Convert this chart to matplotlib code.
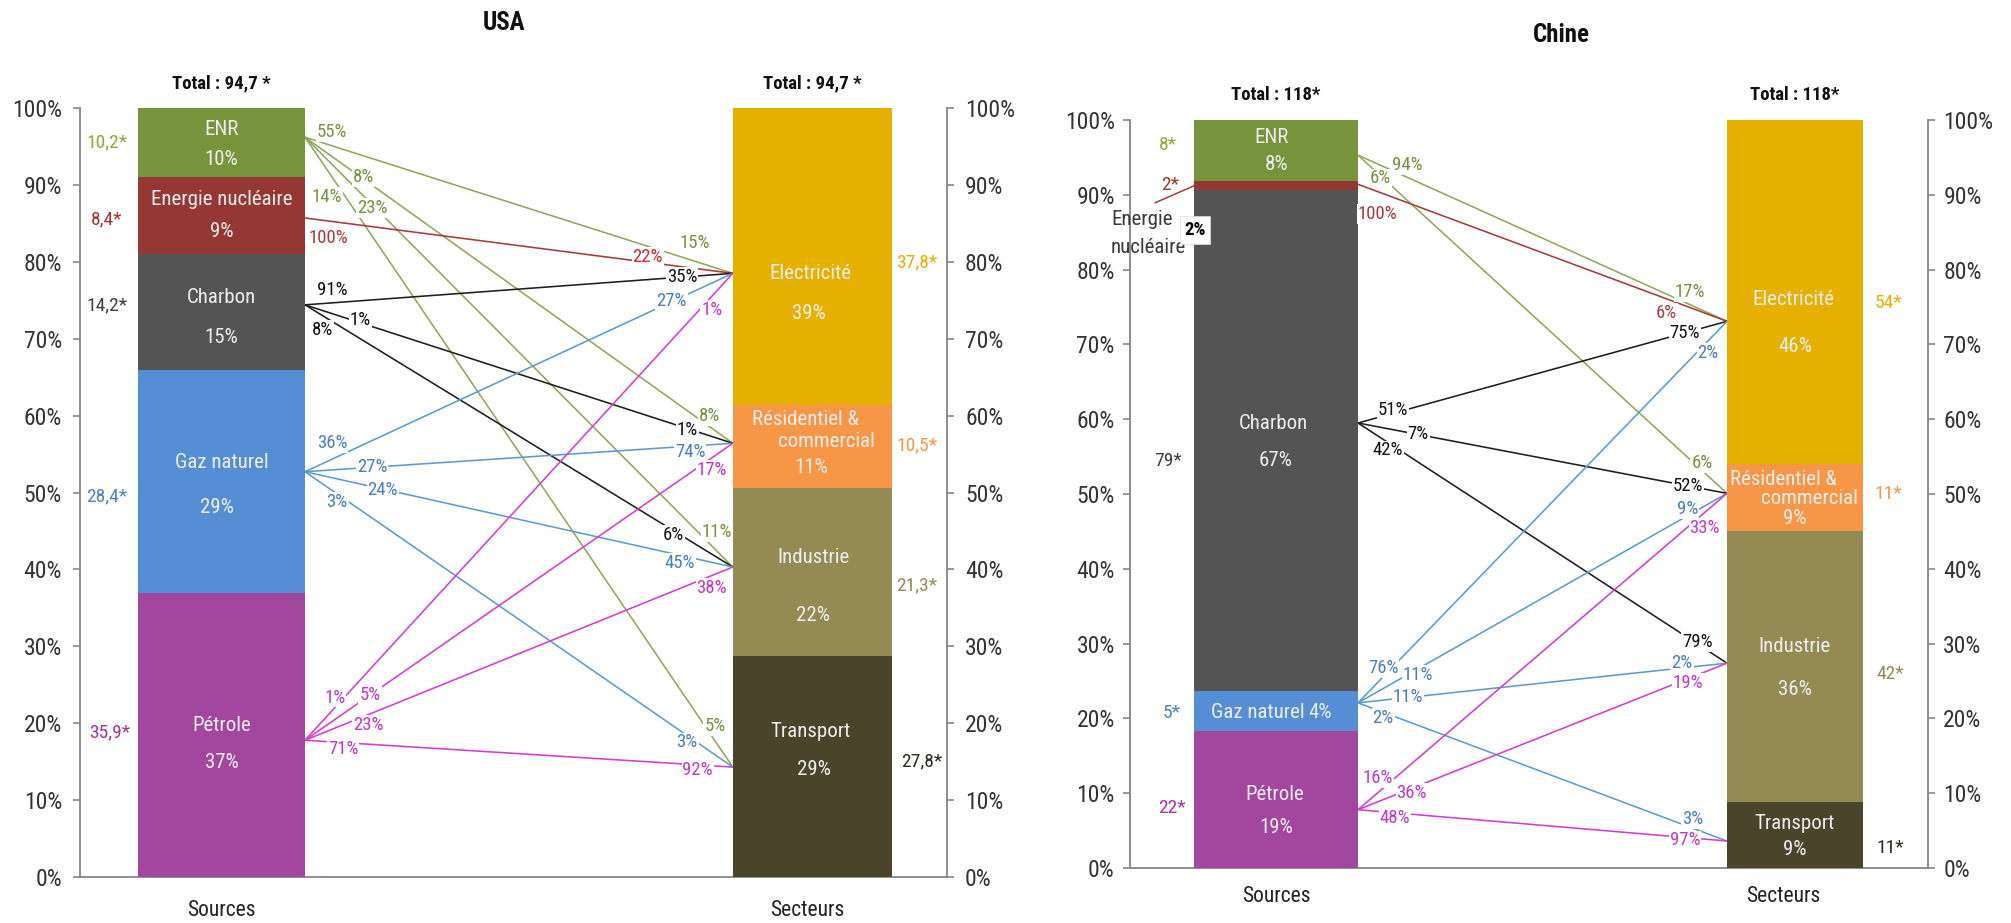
import os
import matplotlib
matplotlib.use('Agg')
import matplotlib.pyplot as plt
from matplotlib import font_manager as fm
from matplotlib.font_manager import FontProperties
from matplotlib.textpath import TextPath

# ======================= DATA =======================
# --- USA ---
usa_sources = ['Pétrole', 'Gaz naturel', 'Charbon', 'Energie nucléaire', 'ENR']
usa_source_share = [36.9, 29.0, 15.1, 10.0, 9.0]
usa_source_pct = [37, 29, 15, 9, 10]
usa_source_abs = ['35,9*', '28,4*', '14,2*', '8,4*', '10,2*']
usa_sectors = ['Transport', 'Industrie', 'Résidentiel &\ncommercial', 'Electricité']
usa_sector_share = [28.7, 21.9, 10.8, 38.6]
usa_sector_pct = [29, 22, 11, 39]
usa_sector_abs = ['27,8*', '21,3*', '10,5*', '37,8*']
usa_total = 'Total : 94,7 *'
# links: source index (0 Pétrole .. 4 ENR) -> sector index (0 Transport .. 3 Electricité)
usa_link_src = [4, 4, 4, 4, 3, 2, 2, 2, 1, 1, 1, 1, 0, 0, 0, 0]
usa_link_dst = [3, 2, 1, 0, 3, 3, 2, 1, 3, 2, 1, 0, 3, 2, 1, 0]
usa_link_src_pct = [55, 8, 23, 14, 100, 91, 1, 8, 36, 27, 24, 3, 1, 5, 23, 71]
usa_link_dst_pct = [15, 8, 11, 5, 22, 35, 1, 6, 27, 74, 45, 3, 1, 17, 38, 92]

# --- Chine ---
chn_sources = ['Pétrole', 'Gaz naturel', 'Charbon', 'Energie nucléaire', 'ENR']
chn_source_share = [18.3, 5.4, 66.9, 1.2, 8.2]
chn_source_pct = [19, 4, 67, 2, 8]
chn_source_abs = ['22*', '5*', '79*', '2*', '8*']
chn_sectors = ['Transport', 'Industrie', 'Résidentiel &\ncommercial', 'Electricité']
chn_sector_share = [8.8, 36.3, 8.9, 46.0]
chn_sector_pct = [9, 36, 9, 46]
chn_sector_abs = ['11*', '42*', '11*', '54*']
chn_total = 'Total : 118*'
chn_link_src = [4, 4, 3, 2, 2, 2, 1, 1, 1, 1, 0, 0, 0]
chn_link_dst = [3, 2, 3, 3, 2, 1, 3, 2, 1, 0, 2, 1, 0]
chn_link_src_pct = [94, 6, 100, 51, 7, 42, 76, 11, 11, 2, 16, 36, 48]
chn_link_dst_pct = [17, 6, 6, 75, 52, 79, 2, 9, 2, 3, 33, 19, 97]


# ======================= FONTS =======================
def find_narrow(bold):
    bad_reg = ['bold', 'italic', 'oblique', 'light', 'thin', 'medium', 'black', 'semi', 'extra', 'heavy']
    bad_bold = ['italic', 'oblique', 'semi', 'extra', 'light', 'black']
    prefs = ['liberationsansnarrow', 'arialn', 'notosans', 'opensans', 'roboto', 'dejavusans', 'lato', 'inter']
    cands = []
    for f in fm.fontManager.ttflist:
        base = os.path.basename(f.fname).lower().replace('-', '').replace('_', '')
        if not ('narrow' in base or 'condensed' in base):
            continue
        if 'mono' in base or 'serif' in base or 'semicondensed' in base or 'extracondensed' in base:
            continue
        if bold:
            if 'bold' not in base or any(w in base for w in bad_bold):
                continue
        else:
            if any(w in base for w in bad_reg):
                continue
        rank = next((i for i, p in enumerate(prefs) if base.startswith(p)), 99)
        cands.append((rank, f.fname))
    cands.sort()
    return cands[0][1] if cands else None


reg_path = find_narrow(False)
bold_path = find_narrow(True)
FP = FontProperties(fname=reg_path) if reg_path else FontProperties(family=['Lato', 'DejaVu Sans'])
FPB = FontProperties(fname=bold_path) if bold_path else FontProperties(family=['Lato', 'DejaVu Sans'], weight='bold')


def fp(size, bold=False):
    p = (FPB if bold else FP).copy()
    p.set_size(size)
    return p


# scale so that "Energie nucléaire" at 15 pt is about 148 px wide
_w = TextPath((0, 0), 'Energie nucléaire', size=15 * 100 / 72, prop=FP).get_extents().width
S = min(1.0, 148.0 / _w)

# ======================= STYLE / LAYOUT =======================
src_colors = ['#A2469E', '#558ED5', '#545454', '#953735', '#77933C']
sec_colors = ['#4A442A', '#948A54', '#F79646', '#E6B000']
line_colors = ['#D43CD4', '#5B9BD5', '#1E1E1E', '#A83A3A', '#8FA85A']
lbl_colors = ['#C636C6', '#4A7EC0', '#111111', '#A83A3A', '#76923C']
src_abs_colors = ['#A0359E', '#4F81BD', '#3F3F3F', '#A83232', '#9AA33A']
sec_abs_colors = ['#2F2B1A', '#948A54', '#F79646', '#E6AF00']
INNER = '#EEEEEE'
AXC = '#868686'
TICKC = '#333333'

W, H = 2011, 923

panels = [
    dict(
        rect=[80, 108, 947, 877],
        lbar=(0.0669, 0.2595), rbar=(0.7530, 0.9366),
        title='USA', title_xy=(504, 23),
        sources=usa_sources, sshare=usa_source_share, spct=usa_source_pct, sabs=usa_source_abs,
        sectors=usa_sectors, dshare=usa_sector_share, dpct=usa_sector_pct, dabs=usa_sector_abs,
        total=usa_total,
        lsrc=usa_link_src, ldst=usa_link_dst, lsp=usa_link_src_pct, ldp=usa_link_dst_pct,
        s_anchor=[0.482, 0.545, 0.563, 0.47, 0.578],
        d_anchor=[0.498, 0.53, 0.537, 0.443],
        lab_pos=[(.063, -14, .911, -18), (.136, -2, .946, -11), (.157, 3, .963, -19),
                 (.05, 28, .958, -15), (.054, 17, .801, -5), (.065, -13, .881, 0),
                 (.129, -3, .893, 2), (.04, 15, .86, 5), (.063, -16, .857, -1),
                 (.157, 0, .9, 6), (.182, 1, .876, 8), (.075, 8, .893, 7),
                 (.07, -10, .951, 14), (.152, 0, .951, 12), (.147, 10, .951, 12),
                 (.089, 6, .918, 5)],
        s_inner=[[(0, -10), (0, 27)], [(0, -19), (-5, 26)], [(0, -15), (0, 25)],
                 [(0, -16), (0, 16)], [(0, -13), (0, 17)]],
        d_inner=[[(-2, -35), (1, 3)], [(1, -15), (1, 43)],
                 [(-7, -27), (14, -5), (-1, 21)], [(-2, 17), (-4, 57)]],
        s_abs_off=[(-28, -3), (-31, 15), (-31, -7), (-31, 4), (-31, 0)],
        d_abs_off=[(30, -5), (25, 13), (25, -1), (25, 6)],
        total_dy=25, axis_lbl_dy=33, sect_lbl_dx=-5,
        nuc_right_color='#D42A2A', pad=8,
    ),
    dict(
        rect=[1130, 120, 1928, 868],
        lbar=(0.0802, 0.2857), rbar=(0.7481, 0.9185),
        title='Chine', title_xy=(1561, 35),
        sources=chn_sources, sshare=chn_source_share, spct=chn_source_pct, sabs=chn_source_abs,
        sectors=chn_sectors, dshare=chn_sector_share, dpct=chn_sector_pct, dabs=chn_sector_abs,
        total=chn_total,
        lsrc=chn_link_src, ldst=chn_link_dst, lsp=chn_link_src_pct, ldp=chn_link_dst_pct,
        s_anchor=[0.426, 0.70, 0.535, 0.67, 0.427],
        d_anchor=[0.41, 0.512, 0.56, 0.415],
        lab_pos=[(.133, -12, .9, -13), (.06, 3, .932, -7), (.054, 22, .837, 14),
                 (.095, -3, .886, 0), (.163, 0, .894, 0), (.081, 8, .919, -2),
                 (.068, -9, .949, 12), (.163, 6, .894, -7), (.136, 0, .878, -5),
                 (.068, 6, .908, -9), (.054, -15, .94, 16), (.146, 5, .894, 4),
                 (.1, 5, .886, 3)],
        s_inner=[[(-1, -5), (0, 28)], [(-18, 2), (44, 2)], [(-3, -17), (0, 20)],
                 None, [(-4, -13), (1, 14)]],
        d_inner=[[(0, -12), (0, 14)], [(0, -20), (0, 23)],
                 [(-12, -18), (14, 1), (0, 21)], [(-2, 7), (0, 54)]],
        s_abs_off=[(-22, 8), (-22, 2), (-26, 20), (-24, -1), (-26, -6)],
        d_abs_off=[(27, 13), (27, 8), (25, -3), (25, 11)],
        total_dy=25, axis_lbl_dy=29, sect_lbl_dx=-12,
        nuc_right_color='#A84040', pad=6,
    ),
]

SZ_INNER = 15 * S
SZ_LINK = 13.5 * S
SZ_ABS = 14 * S
SZ_TICK = 17 * S
SZ_TOTAL = 13.5 * S
SZ_AXL = 15.5 * S

fig = plt.figure(figsize=(W / 100, H / 100), dpi=100)


def seg_bounds(shares):
    out, b = [], 0.0
    for s in shares:
        out.append((b, b + s))
        b += s
    return out


for P in panels:
    x0p, ytop, x1p, ybot = P['rect']
    ax = fig.add_axes([x0p / W, (H - ybot) / H, (x1p - x0p) / W, (ybot - ytop) / H])
    ax.set_xlim(0, 1)
    ax.set_ylim(0, 100)
    ax.spines['top'].set_visible(False)
    for sp in ['left', 'right', 'bottom']:
        ax.spines[sp].set_color(AXC)
        ax.spines[sp].set_linewidth(1.3)
    ax.set_xticks([])
    ax.set_yticks(range(0, 101, 10))
    ax.set_yticklabels([f'{v}%' for v in range(0, 101, 10)])
    ax.tick_params(axis='y', left=True, right=True, labelleft=True, labelright=True,
                   direction='out', length=5, width=1.2, color=AXC, labelcolor=TICKC,
                   pad=P['pad'])
    for t in ax.yaxis.get_major_ticks():
        t.label1.set_fontproperties(fp(SZ_TICK))
        t.label2.set_fontproperties(fp(SZ_TICK))

    lx0, lx1 = P['lbar']
    rx0, rx1 = P['rbar']
    lc, rc = (lx0 + lx1) / 2, (rx0 + rx1) / 2
    sb = seg_bounds(P['sshare'])
    db = seg_bounds(P['dshare'])

    # bars
    for i, (b0, b1) in enumerate(sb):
        ax.bar(lc, b1 - b0, bottom=b0, width=lx1 - lx0, color=src_colors[i], zorder=3, linewidth=0)
    for i, (b0, b1) in enumerate(db):
        ax.bar(rc, b1 - b0, bottom=b0, width=rx1 - rx0, color=sec_colors[i], zorder=3, linewidth=0)

    s_anchor = [b0 + f * (b1 - b0) for (b0, b1), f in zip(sb, P['s_anchor'])]
    d_anchor = [b0 + f * (b1 - b0) for (b0, b1), f in zip(db, P['d_anchor'])]

    # links
    for k in range(len(P['lsrc'])):
        s, d = P['lsrc'][k], P['ldst'][k]
        ys, yd = s_anchor[s], d_anchor[d]
        ax.plot([lx1, rx0], [ys, yd], color=line_colors[s], lw=1.15, zorder=2,
                solid_capstyle='butt')
        tL, dyL, tR, dyR = P['lab_pos'][k]
        rcol = lbl_colors[s] if s != 3 else P['nuc_right_color']
        for t, dy, txt, col in [(tL, dyL, f"{P['lsp'][k]}%", lbl_colors[s]),
                                (tR, dyR, f"{P['ldp'][k]}%", rcol)]:
            x = lx1 + t * (rx0 - lx1)
            y = ys + t * (yd - ys)
            ax.annotate(txt, xy=(x, y), xytext=(0, -dy), textcoords='offset pixels',
                        ha='center', va='center', fontproperties=fp(SZ_LINK), color=col, zorder=4,
                        bbox=dict(boxstyle='square,pad=0.05', fc='white', ec='none'))

    # inner labels
    for i, (b0, b1) in enumerate(sb):
        offs = P['s_inner'][i]
        if offs is None:
            continue
        texts = P['sources'][i].split('\n') + [f"{P['spct'][i]}%"]
        for txt, (dx, dy) in zip(texts, offs):
            ax.annotate(txt, xy=(lc, (b0 + b1) / 2), xytext=(dx, -dy), textcoords='offset pixels',
                        ha='center', va='center', fontproperties=fp(SZ_INNER), color=INNER, zorder=5)
    for i, (b0, b1) in enumerate(db):
        offs = P['d_inner'][i]
        texts = P['sectors'][i].split('\n') + [f"{P['dpct'][i]}%"]
        for txt, (dx, dy) in zip(texts, offs):
            ax.annotate(txt, xy=(rc, (b0 + b1) / 2), xytext=(dx, -dy), textcoords='offset pixels',
                        ha='center', va='center', fontproperties=fp(SZ_INNER), color=INNER, zorder=5)

    # absolute values
    for i, (b0, b1) in enumerate(sb):
        dx, dy = P['s_abs_off'][i]
        ax.annotate(P['sabs'][i], xy=(lx0, (b0 + b1) / 2), xytext=(dx, -dy),
                    textcoords='offset pixels', ha='center', va='center', fontproperties=fp(SZ_ABS),
                    color=src_abs_colors[i], annotation_clip=False)
    for i, (b0, b1) in enumerate(db):
        dx, dy = P['d_abs_off'][i]
        ax.annotate(P['dabs'][i], xy=(rx1, (b0 + b1) / 2), xytext=(dx, -dy),
                    textcoords='offset pixels', ha='center', va='center', fontproperties=fp(SZ_ABS),
                    color=sec_abs_colors[i], annotation_clip=False)

    # totals
    for cx in (lc, rc):
        ax.annotate(P['total'], xy=(cx, 100), xytext=(0, P['total_dy']), textcoords='offset pixels',
                    ha='center', va='center', fontproperties=fp(SZ_TOTAL, True), color='#111111',
                    annotation_clip=False)
    ax.annotate('Sources', xy=(lc, 0), xytext=(0, -P['axis_lbl_dy']), textcoords='offset pixels',
                ha='center', va='center', fontproperties=fp(SZ_AXL), color='#222222',
                annotation_clip=False)
    ax.annotate('Secteurs', xy=(rc, 0), xytext=(P['sect_lbl_dx'], -P['axis_lbl_dy']),
                textcoords='offset pixels', ha='center', va='center', fontproperties=fp(SZ_AXL),
                color='#222222', annotation_clip=False)

    fig.text(P['title_xy'][0] / W, 1 - P['title_xy'][1] / H, P['title'], ha='center', va='center',
             fontproperties=fp(18, True), color='#111111')

    # China: external label for nuclear energy
    if P['s_inner'][3] is None:
        b0, b1 = sb[3]
        yc = (b0 + b1) / 2
        ax.annotate('', xy=(lx0, yc), xytext=(-39, -17), textcoords='offset pixels',
                    arrowprops=dict(arrowstyle='-', color=line_colors[3], lw=1.1,
                                    shrinkA=0, shrinkB=0), annotation_clip=False)
        ax.annotate('Energie', xy=(lx0, yc), xytext=(-52, -34), textcoords='offset pixels',
                    ha='center', va='center', fontproperties=fp(SZ_INNER), color='#3A3A3A',
                    annotation_clip=False)
        ax.annotate('nucléaire', xy=(lx0, yc), xytext=(-46, -62), textcoords='offset pixels',
                    ha='center', va='center', fontproperties=fp(SZ_INNER), color='#3A3A3A',
                    annotation_clip=False)
        ax.annotate(f"{P['spct'][3]}%", xy=(lx0, yc), xytext=(1, -44), textcoords='offset pixels',
                    ha='center', va='center', fontproperties=fp(SZ_LINK, True), color='black',
                    zorder=6, bbox=dict(boxstyle='square,pad=0.25', fc='white', ec='#DDDDDD', lw=0.5),
                    annotation_clip=False)

fig.savefig('out.png', dpi=100)
